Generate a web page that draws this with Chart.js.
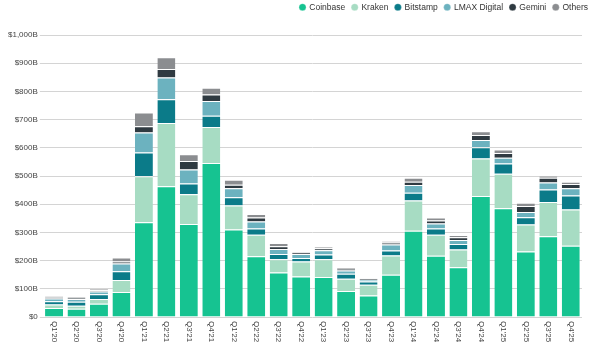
<!DOCTYPE html>
<html>
<head>
<meta charset="utf-8">
<script src="https://cdn.jsdelivr.net/npm/chart.js@4.4.1/dist/chart.umd.min.js"></script>
<style>
  html, body { margin: 0; padding: 0; background: #fff; }
  #wrap { width: 600px; height: 352px; position: relative; }
</style>
</head>
<body>
<div id="wrap"><canvas id="c"></canvas></div>
<script>
const categories = ["Q1'20","Q2'20","Q3'20","Q4'20","Q1'21","Q2'21","Q3'21","Q4'21","Q1'22","Q2'22","Q3'22","Q4'22","Q1'23","Q2'23","Q3'23","Q4'23","Q1'24","Q2'24","Q3'24","Q4'24","Q1'25","Q2'25","Q3'25","Q4'25"];
const coinbase = [32,29,47,89,336,464,330,546,310,215,158,144,142,92,76,150,306,217,176,429,386,232,286,253];
const kraken   = [12,11,17,42,163,224,105,128,85,77,47,53,63,44,38,68,107,75,63,133,122,96,122,128];
const bitstamp = [12,14,17,31,84,84,38,40,30,22,18,12,17,17,12,18,28,22,20,40,36,26,44,50];
const lmax     = [10,10,9,28,71,77,50,52,32,25,18,14,15,12,6,21,27,18,14,26,21,18,25,26];
const gemini   = [4,4,5,7,22,30,30,23,12,14,10,6,7,6,5,7,12,10,10,17,17,22,17,15];
const others   = [4,4,5,14,49,42,24,24,18,12,11,3,5,5,2,5,14,11,8,14,12,11,8,8];
const yTicks = [0,100,200,300,400,500,600,700,800,900,1000];

const FONT = '"Liberation Sans", Arial, sans-serif';

const xLabelPlugin = {
  id: 'xLabels',
  afterDraw(chart) {
    const { ctx, scales: { x }, chartArea } = chart;
    ctx.save();
    ctx.font = '8px ' + FONT;
    ctx.fillStyle = '#444';
    ctx.textAlign = 'left';
    ctx.textBaseline = 'middle';
    categories.forEach((lab, i) => {
      const px = x.getPixelForValue(i);
      ctx.save();
      ctx.translate(px, chartArea.bottom + 4);
      ctx.rotate(Math.PI / 2);
      ctx.fillText(lab, 0, 0);
      ctx.restore();
    });
    ctx.restore();
  }
};

const legendHeightPlugin = {
  id: 'legendHeight',
  beforeInit(chart) {
    const origFit = chart.legend.fit;
    chart.legend.fit = function () {
      origFit.bind(chart.legend)();
      this.height = 39;
    };
  },
  afterLayout(chart) {
    chart.legend.left += 13;
    chart.legend.right += 13;
  }
};

const mk = (label, data, color) => ({
  label, data, backgroundColor: color, borderColor: '#ffffff',
  borderWidth: { top: 1, left: 0, right: 0, bottom: 0 }, borderSkipped: 'start',
  barPercentage: 1.0, categoryPercentage: 0.8
});

new Chart(document.getElementById('c'), {
  type: 'bar',
  data: {
    labels: categories,
    datasets: [
      mk('Coinbase', coinbase, '#16c391'),
      mk('Kraken', kraken, '#a7dcc3'),
      mk('Bitstamp', bitstamp, '#0b7b89'),
      mk('LMAX Digital', lmax, '#6cb2bf'),
      mk('Gemini', gemini, '#2f3a41'),
      mk('Others', others, '#8b8d90')
    ]
  },
  options: {
    responsive: true,
    maintainAspectRatio: false,
    animation: false,
    layout: { padding: { left: 6, right: 18, top: -4, bottom: 27 } },
    plugins: {
      legend: {
        position: 'top',
        align: 'end',
        labels: {
          usePointStyle: true,
          pointStyle: 'circle',
          boxWidth: 5,
          boxHeight: 5,
          padding: 7,
          color: '#333',
          font: { family: FONT, size: 8.5 }
        }
      },
      tooltip: { enabled: false }
    },
    scales: {
      x: {
        stacked: true,
        ticks: { display: false },
        grid: { display: false },
        border: { display: false }
      },
      y: {
        stacked: true,
        min: 0,
        max: 1000,
        afterBuildTicks(scale) { scale.ticks = yTicks.map(v => ({ value: v })); },
        ticks: {
          padding: 2,
          color: '#444',
          font: { family: FONT, size: 8 },
          callback: v => v === 0 ? '$0' : '$' + v.toLocaleString('en-US') + 'B'
        },
        grid: { color: '#d4d4d4', lineWidth: 1, drawTicks: true, tickLength: 3 },
        border: { display: false }
      }
    }
  },
  plugins: [xLabelPlugin, legendHeightPlugin]
});
</script>
</body>
</html>
